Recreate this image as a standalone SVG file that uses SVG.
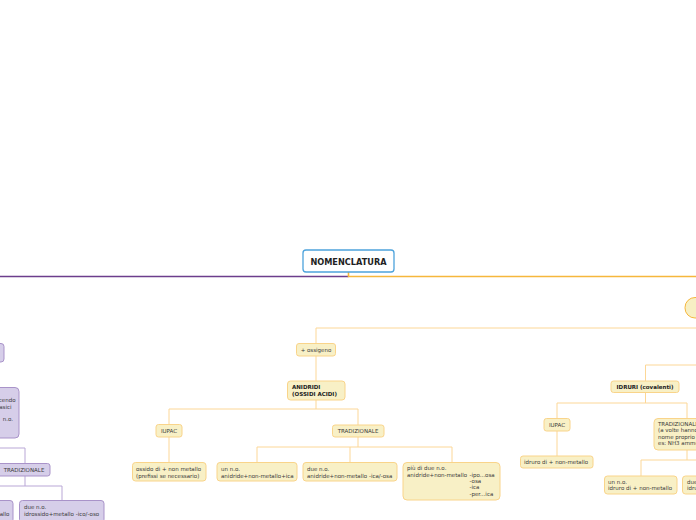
<svg xmlns="http://www.w3.org/2000/svg" width="696" height="520" viewBox="0 0 696 520">
<style>
text{font-family:"DejaVu Sans","Liberation Sans",sans-serif;font-size:5.5px;fill:#3a3a3a}
.b{font-weight:bold;fill:#222}
.c{text-anchor:middle}
.e{text-anchor:end}
.y{fill:#f8f0c6;stroke:#f9d48a;stroke-width:1}
.p{fill:#d6cee9;stroke:#a993c9;stroke-width:1}
.cy{fill:none;stroke:#fcd797;stroke-width:1}
.cp{fill:none;stroke:#b9a7d6;stroke-width:1}
</style>
<rect width="696" height="520" fill="#fff"/>
<g id="connectors">
<path d="M0 276.5H348.5" fill="none" stroke="#6c3d8c" stroke-width="1.6"/>
<path d="M348.5 272V276.5H696" fill="none" stroke="#f6b73c" stroke-width="1.6"/>
<path class="cy" d="M696 328H316V381"/>
<path class="cy" d="M316 400V409M169 424V409H358V425"/>
<path class="cy" d="M169 437V462"/>
<path class="cy" d="M358 437V447M257 462V447H452V462M350 447V462"/>
<path class="cy" d="M696 365H645.5V381"/>
<path class="cy" d="M645.5 392V403M557 418V403H687V418M557 431V456"/>
<path class="cy" d="M687 450V460M641 476V460H696"/>
<path class="cp" d="M0 448H25V463M25 476V486M0 486H62V500"/>
</g>
<g id="nomenclatura">
<rect x="303" y="250" width="91" height="22" rx="3" fill="#fff" stroke="#4da3dc" stroke-width="1.3"/>
<text x="348.5" y="264.5" class="b c" style="font-size:8.2px">NOMENCLATURA</text>
</g>
<g id="orange-main">
<rect x="685" y="297.5" width="40" height="20.5" rx="10" fill="#f7efc4" stroke="#f6b73c" stroke-width="1"/>
</g>
<g id="ossigeno">
<rect class="y" x="296.5" y="343.5" width="39" height="12.5" rx="2.5"/>
<text x="316" y="351.8" class="c">+ ossigeno</text>
</g>
<g id="anidridi">
<rect class="y" x="287.5" y="381" width="57.5" height="19" rx="3"/>
<text x="292" y="388.5" class="b">ANIDRIDI</text>
<text x="292" y="396" class="b">(OSSIDI ACIDI)</text>
</g>
<g id="iupac-1">
<rect class="y" x="156" y="424.5" width="26" height="12.5" rx="2.5"/>
<text x="169" y="433" class="c">IUPAC</text>
</g>
<g id="tradizionale-1">
<rect class="y" x="332.5" y="425" width="51.5" height="12" rx="2.5"/>
<text x="358" y="433" class="c">TRADIZIONALE</text>
</g>
<g id="ossido">
<rect class="y" x="132.5" y="462.5" width="73.5" height="18.5" rx="3"/>
<text x="136" y="471">ossido di + non metallo</text>
<text x="136" y="477.5">(prefissi se necessario)</text>
</g>
<g id="un-no-1">
<rect class="y" x="217" y="462.5" width="80" height="18.5" rx="3"/>
<text x="221" y="471">un n.o.</text>
<text x="221" y="477.5">anidride+non-metallo+ica</text>
</g>
<g id="due-no-1">
<rect class="y" x="303" y="462.5" width="94" height="18.5" rx="3"/>
<text x="307" y="471">due n.o.</text>
<text x="307" y="477.5">anidride+non-metallo -ica/-osa</text>
</g>
<g id="piu-di-due">
<rect class="y" x="403" y="462.5" width="97" height="37.5" rx="4"/>
<text x="407" y="470">più di due n.o.</text>
<text x="407" y="476.5">anidride+non-metallo</text>
<text x="469.5" y="476.5">-ipo...osa</text>
<text x="469.5" y="483">-osa</text>
<text x="469.5" y="489.3">-ica</text>
<text x="469.5" y="495.6">-per...ica</text>
</g>
<g id="idruri">
<rect class="y" x="611" y="381" width="68" height="11.5" rx="2.5"/>
<text x="645" y="389" class="b c">IDRURI (covalenti)</text>
</g>
<g id="iupac-2">
<rect class="y" x="544" y="418.5" width="26" height="12.5" rx="2.5"/>
<text x="557" y="426.8" class="c">IUPAC</text>
</g>
<g id="idruro">
<rect class="y" x="520.5" y="456" width="72.5" height="12" rx="2.5"/>
<text x="524" y="464">idruro di + non-metallo</text>
</g>
<g id="tradizionale-2">
<rect class="y" x="654" y="418.5" width="80" height="31.5" rx="4"/>
<text x="658" y="425.5">TRADIZIONALE</text>
<text x="658" y="432">(a volte hanno</text>
<text x="658" y="438.5">nome proprio</text>
<text x="658" y="445">es: NH3 ammoniaca</text>
</g>
<g id="un-no-2">
<rect class="y" x="604.5" y="476" width="72.5" height="18" rx="3"/>
<text x="608" y="483.5">un n.o.</text>
<text x="608" y="490">idruro di + non-metallo</text>
</g>
<g id="due-no-2">
<rect class="y" x="682.5" y="476" width="80" height="18" rx="3"/>
<text x="687" y="483.5">due n.o.</text>
<text x="687" y="490">idruro</text>
</g>
<g id="purple-1">
<rect class="p" x="-20" y="343.5" width="24" height="18.5" rx="3"/>
</g>
<g id="purple-2">
<rect class="p" x="-60" y="387.5" width="79" height="50.5" rx="4"/>
<text x="15.5" y="402" class="e">facendo</text>
<text x="11.5" y="408.5" class="e">basici</text>
<text x="13" y="421" class="e">n.o.</text>
</g>
<g id="tradizionale-3">
<rect class="p" x="-4" y="463.5" width="54" height="12.5" rx="2.5"/>
<text x="24" y="472" class="c">TRADIZIONALE</text>
</g>
<g id="un-no-3">
<rect class="p" x="-70" y="500.5" width="83" height="22" rx="3"/>
<text x="9.5" y="515.5" class="e">idrossido+metallo</text>
</g>
<g id="due-no-3">
<rect class="p" x="19.5" y="500.5" width="84.5" height="22" rx="3"/>
<text x="24" y="509">due n.o.</text>
<text x="24" y="515.5">idrossido+metallo -ico/-oso</text>
</g>
</svg>
